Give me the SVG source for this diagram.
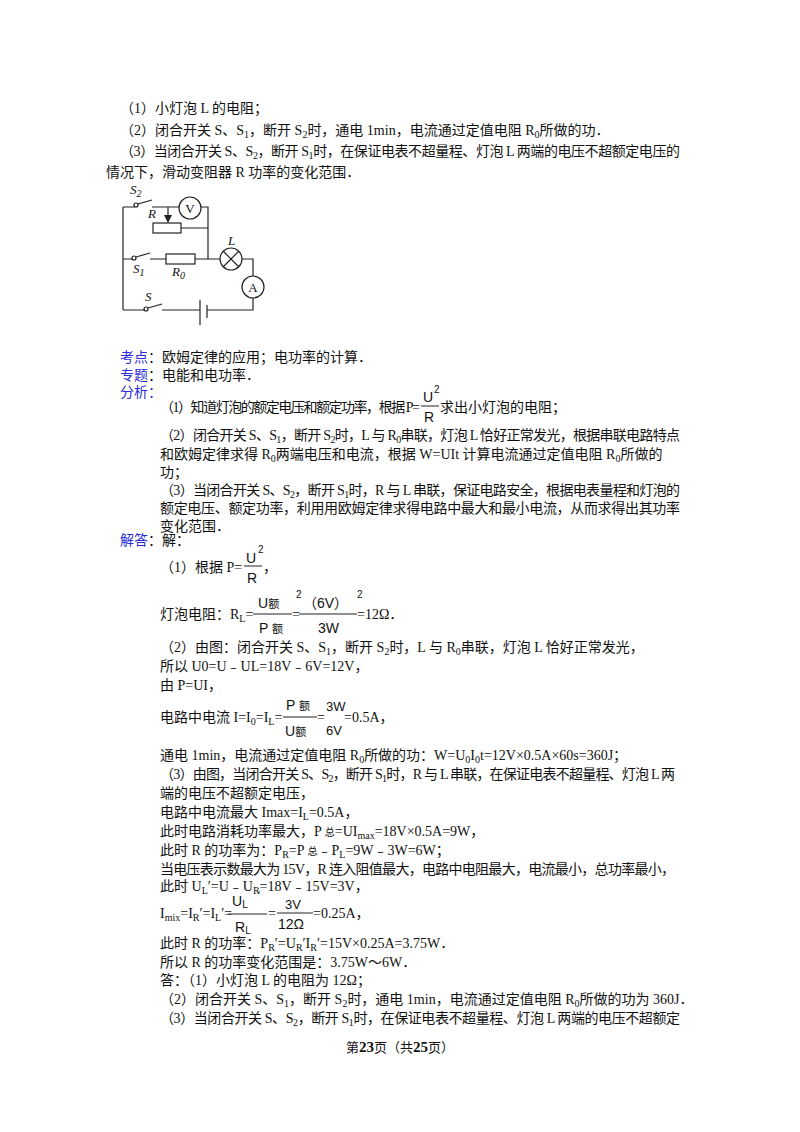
<svg xmlns="http://www.w3.org/2000/svg" width="800" height="1132" viewBox="0 0 800 1132">
<style>
text{font-family:"Liberation Serif","Noto Sans CJK SC",serif;font-size:14px;fill:#111}
.b{fill:#2a2ad8}
.s{font-size:10px}
.f{font-family:"Liberation Sans","Noto Sans CJK SC",sans-serif;font-size:14px}
.i{font-style:italic;font-size:13px}
.w{stroke:#222;stroke-width:1.2;fill:none}
</style>
<rect width="800" height="1132" fill="#fff"/>
<text x="120" y="113">（1）小灯泡 L 的电阻；</text>
<text x="120" y="135">（2）闭合开关 S、S<tspan class="s" dy="3">1</tspan><tspan dy="-3">，断开 S</tspan><tspan class="s" dy="3">2</tspan><tspan dy="-3">时，通电 1min，电流通过定值电阻 R</tspan><tspan class="s" dy="3">0</tspan><tspan dy="-3">所做的功．</tspan></text>
<text x="120" y="156" textLength="560">（3）当闭合开关 S、S<tspan class="s" dy="3">2</tspan><tspan dy="-3">，断开 S</tspan><tspan class="s" dy="3">1</tspan><tspan dy="-3">时，在保证电表不超量程、灯泡 L 两端的电压不超额定电压的</tspan></text>
<text x="106" y="177">情况下，滑动变阻器 R 功率的变化范围．</text>

<g id="circuit">
<path class="w" d="M123,207 V310 M123,207 H135 M152,207 H179 M201,207 H208 V259 M181,228 H208 M123,259 H133 M150,259 H166 M195,259 H220 M242,259 H253 V276 M253,298 V310 H207 M200,310 H162 M123,310 H145"/>
<circle cx="136" cy="205" r="2" class="w"/><line class="w" x1="138" y1="204" x2="152" y2="200"/>
<circle cx="134" cy="258" r="2" class="w"/><line class="w" x1="136" y1="257" x2="150" y2="253"/>
<circle cx="146" cy="309" r="2" class="w"/><line class="w" x1="148" y1="308" x2="162" y2="304"/>
<circle cx="190" cy="208" r="11" class="w"/><text x="190" y="213" text-anchor="middle" style="font-size:13px">V</text>
<rect class="w" x="153" y="223" width="28" height="10"/>
<line class="w" x1="168" y1="207" x2="168" y2="216"/><path d="M164,215 L172,215 L168,223 Z" fill="#222"/>
<rect class="w" x="166" y="254" width="29" height="10"/>
<circle cx="231" cy="259" r="11" class="w"/><path class="w" d="M223,251 L239,267 M239,251 L223,267"/>
<circle cx="253" cy="287" r="11" class="w"/><text x="253" y="292" text-anchor="middle" style="font-size:13px">A</text>
<line class="w" x1="200" y1="300" x2="200" y2="325"/><line class="w" x1="207" y1="305" x2="207" y2="318"/>
<text class="i" x="130" y="194">S<tspan class="s" dy="3">2</tspan></text>
<text class="i" x="148" y="218">R</text>
<text class="i" x="228" y="245">L</text>
<text class="i" x="133" y="273">S<tspan class="s" dy="3">1</tspan></text>
<text class="i" x="172" y="276">R<tspan class="s" dy="3">0</tspan></text>
<text class="i" x="145" y="301">S</text>
</g>

<text x="120" y="362"><tspan class="b">考点</tspan>：欧姆定律的应用；电功率的计算．</text>
<text x="120" y="380"><tspan class="b">专题</tspan>：电能和电功率．</text>
<text x="120" y="397" class="b">分析：</text>
<text x="160" y="412" textLength="260">（1）知道灯泡的额定电压和额定功率，根据 P=</text>
<text class="f" x="423" y="402">U</text><text class="f" x="434" y="393" style="font-size:10px">2</text>
<line x1="421" y1="406" x2="439" y2="406" stroke="#222"/>
<text class="f" x="424" y="422">R</text>
<text x="440" y="412">求出小灯泡的电阻；</text>
<text x="160" y="440" textLength="520">（2）闭合开关 S、S<tspan class="s" dy="3">1</tspan><tspan dy="-3">，断开 S</tspan><tspan class="s" dy="3">2</tspan><tspan dy="-3">时，L 与 R</tspan><tspan class="s" dy="3">0</tspan><tspan dy="-3">串联，灯泡 L 恰好正常发光，根据串联电路特点</tspan></text>
<text x="160" y="459">和欧姆定律求得 R<tspan class="s" dy="3">0</tspan><tspan dy="-3">两端电压和电流，根据 W=UIt 计算电流通过定值电阻 R</tspan><tspan class="s" dy="3">0</tspan><tspan dy="-3">所做的</tspan></text>
<text x="160" y="477">功；</text>
<text x="160" y="495" textLength="520">（3）当闭合开关 S、S<tspan class="s" dy="3">2</tspan><tspan dy="-3">，断开 S</tspan><tspan class="s" dy="3">1</tspan><tspan dy="-3">时，R 与 L 串联，保证电路安全，根据电表量程和灯泡的</tspan></text>
<text x="160" y="513" textLength="520">额定电压、额定功率，利用用欧姆定律求得电路中最大和最小电流，从而求得出其功率</text>
<text x="160" y="531">变化范围．</text>
<text x="120" y="545"><tspan class="b">解答</tspan>：解：</text>

<text x="160" y="572">（1）根据 P=</text>
<text class="f" x="246" y="563">U</text><text class="f" x="258" y="553" style="font-size:10px">2</text>
<line x1="244" y1="566" x2="262" y2="566" stroke="#222"/>
<text class="f" x="247" y="583">R</text>
<text x="263" y="572">，</text>
<text x="160" y="619">灯泡电阻：R<tspan class="s" dy="3">L</tspan><tspan dy="-3">=</tspan></text>
<text class="f" x="258" y="608">U<tspan style="font-size:11px">额</tspan></text><text class="f" x="296" y="598" style="font-size:10px">2</text>
<line x1="253" y1="614" x2="292" y2="614" stroke="#222"/>
<text class="f" x="259" y="633">P <tspan style="font-size:11px">额</tspan></text>
<text x="292" y="619">=</text>
<text class="f" x="303" y="608">（6V）</text><text class="f" x="357" y="598" style="font-size:10px">2</text>
<line x1="299" y1="614" x2="357" y2="614" stroke="#222"/>
<text class="f" x="318" y="633">3W</text>
<text x="357" y="619">=12Ω．</text>

<text x="160" y="652">（2）由图：闭合开关 S、S<tspan class="s" dy="3">1</tspan><tspan dy="-3">，断开 S</tspan><tspan class="s" dy="3">2</tspan><tspan dy="-3">时，L 与 R</tspan><tspan class="s" dy="3">0</tspan><tspan dy="-3">串联，灯泡 L 恰好正常发光，</tspan></text>
<text x="160" y="671">所以 U0=U﹣UL=18V﹣6V=12V，</text>
<text x="160" y="690">由 P=UI，</text>
<text x="160" y="722">电路中电流 I=I<tspan class="s" dy="3">0</tspan><tspan dy="-3">=I</tspan><tspan class="s" dy="3">L</tspan><tspan dy="-3">=</tspan></text>
<text class="f" x="286" y="710">P <tspan style="font-size:11px">额</tspan></text>
<line x1="283" y1="717" x2="317" y2="717" stroke="#222"/>
<text class="f" x="285" y="736">U<tspan style="font-size:11px">额</tspan></text>
<text x="317" y="722">=</text>
<text class="f" x="326" y="711" style="font-size:13px">3W</text>
<text class="f" x="326" y="735" style="font-size:13px">6V</text>
<text x="344" y="722">=0.5A，</text>

<text x="160" y="760">通电 1min，电流通过定值电阻 R<tspan class="s" dy="3">0</tspan><tspan dy="-3">所做的功：W=U</tspan><tspan class="s" dy="3">0</tspan><tspan dy="-3">I</tspan><tspan class="s" dy="3">0</tspan><tspan dy="-3">t=12V×0.5A×60s=360J；</tspan></text>
<text x="160" y="779" textLength="515">（3）由图，当闭合开关 S、S<tspan class="s" dy="3">2</tspan><tspan dy="-3">，断开 S</tspan><tspan class="s" dy="3">1</tspan><tspan dy="-3">时，R 与 L 串联，在保证电表不超量程、灯泡 L 两</tspan></text>
<text x="160" y="798">端的电压不超额定电压，</text>
<text x="160" y="817">电路中电流最大 Imax=I<tspan class="s" dy="3">L</tspan><tspan dy="-3">=0.5A，</tspan></text>
<text x="160" y="836">此时电路消耗功率最大，P <tspan class="s">总</tspan>=UI<tspan class="s" dy="3">max</tspan><tspan dy="-3">=18V×0.5A=9W，</tspan></text>
<text x="160" y="855">此时 R 的功率为：P<tspan class="s" dy="3">R</tspan><tspan dy="-3">=P </tspan><tspan class="s">总</tspan>﹣P<tspan class="s" dy="3">L</tspan><tspan dy="-3">=9W﹣3W=6W；</tspan></text>
<text x="160" y="874" textLength="515">当电压表示数最大为 15V，R 连入阻值最大，电路中电阻最大，电流最小，总功率最小，</text>
<text x="160" y="891">此时 U<tspan class="s" dy="3">L</tspan><tspan dy="-3">′=U﹣U</tspan><tspan class="s" dy="3">R</tspan><tspan dy="-3">=18V﹣15V=3V，</tspan></text>
<text x="160" y="918">I<tspan class="s" dy="3">mix</tspan><tspan dy="-3">=I</tspan><tspan class="s" dy="3">R</tspan><tspan dy="-3">′=I</tspan><tspan class="s" dy="3">L</tspan><tspan dy="-3">′=</tspan></text>
<text class="f" x="232" y="906">U<tspan style="font-size:10px" dy="2">L</tspan></text><text class="f" x="258" y="899" style="font-size:10px">′</text>
<line x1="228" y1="914" x2="267" y2="914" stroke="#222"/>
<text class="f" x="235" y="932">R<tspan style="font-size:10px" dy="2">L</tspan></text>
<text x="268" y="918">=</text>
<text class="f" x="285" y="909" style="font-size:13px">3V</text>
<line x1="277" y1="913" x2="313" y2="913" stroke="#222"/>
<text class="f" x="278" y="929">12Ω</text>
<text x="313" y="918">=0.25A，</text>
<text x="160" y="948">此时 R 的功率：P<tspan class="s" dy="3">R</tspan><tspan dy="-3">′=U</tspan><tspan class="s" dy="3">R</tspan><tspan dy="-3">′I</tspan><tspan class="s" dy="3">R</tspan><tspan dy="-3">′=15V×0.25A=3.75W．</tspan></text>
<text x="160" y="967">所以 R 的功率变化范围是：3.75W～6W．</text>
<text x="160" y="985">答：（1）小灯泡 L 的电阻为 12Ω；</text>
<text x="160" y="1004">（2）闭合开关 S、S<tspan class="s" dy="3">1</tspan><tspan dy="-3">，断开 S</tspan><tspan class="s" dy="3">2</tspan><tspan dy="-3">时，通电 1min，电流通过定值电阻 R</tspan><tspan class="s" dy="3">0</tspan><tspan dy="-3">所做的功为 360J．</tspan></text>
<text x="160" y="1023" textLength="520">（3）当闭合开关 S、S<tspan class="s" dy="3">2</tspan><tspan dy="-3">，断开 S</tspan><tspan class="s" dy="3">1</tspan><tspan dy="-3">时，在保证电表不超量程、灯泡 L 两端的电压不超额定</tspan></text>
<text x="400" y="1052" text-anchor="middle" style="font-size:13px">第<tspan font-weight="bold" style="font-size:15px">23</tspan>页（共<tspan font-weight="bold" style="font-size:15px">25</tspan>页）</text>
</svg>
